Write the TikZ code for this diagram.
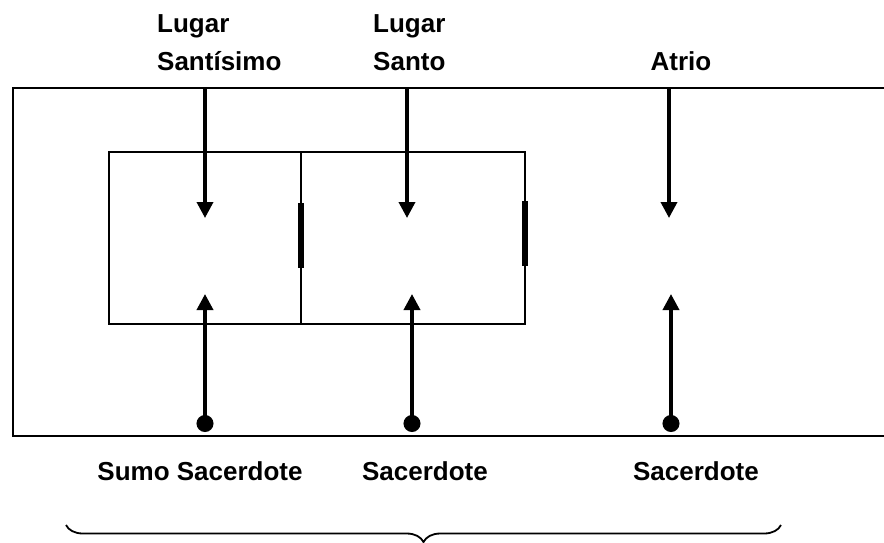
\documentclass[tikz,border=0pt]{standalone}
\usepackage{fontspec}
\setmainfont{Liberation Sans}
\usetikzlibrary{arrows.meta, positioning, decorations.pathreplacing}

\begin{document}
\begin{tikzpicture}[x=1pt, y=-1pt,
  lbl/.style={font=\fontsize{26}{38}\selectfont\bfseries, inner sep=0pt},
  room/.style={draw, line width=1.7pt, inner sep=0pt, outer sep=0pt, anchor=north west},
  into/.style={line width=3.6pt, -{Triangle[width=16pt, length=16pt]}},
  enter/.style={line width=3.6pt, {Circle[length=17pt]}-{Triangle[width=16pt, length=16pt]}},
  door/.style={line width=5.5pt}]
  \useasboundingbox (0,0) rectangle (884,542);

  % Atrio (open to the right)
  \coordinate (cNE) at (884,88);
  \coordinate (cNW) at (13,88);
  \coordinate (cSW) at (13,436);
  \coordinate (cSE) at (884,436);
  \draw[line width=2.8pt] (cNE) -- (cNW) -- (cSW) -- (cSE);

  % Rooms
  \node[room, minimum width=192pt, minimum height=172pt] (santisimo) at (109,152) {};
  \node[room, minimum width=224pt, minimum height=172pt] (santo) at (301,152) {};

  % Doors
  \draw[door] (301,203) -- (301,268);
  \draw[door] (525,201) -- (525,266);

  % Labels
  \node[lbl, align=left, anchor=north west] (lblSantisimo) at (157,14) {Lugar\\Santísimo};
  \node[lbl, align=left, anchor=north west] (lblSanto) at (373,14) {Lugar\\Santo};
  \node[lbl, anchor=base] (lblAtrio) at (681,70) {Atrio};

  \node[lbl, anchor=base] (lblSumo) at (200,480) {Sumo Sacerdote};
  \node[lbl, anchor=base] (lblSac1) at (425,480) {Sacerdote};
  \node[lbl, anchor=base] (lblSac2) at (696,480) {Sacerdote};

  % Arrows in
  \coordinate (inA) at (205,88);
  \coordinate (inB) at (407,88);
  \coordinate (inC) at (669,88);
  \coordinate (tipA) at (205,218);
  \coordinate (tipB) at (407,218);
  \coordinate (tipC) at (669,218);
  \draw[into] (inA) -- (tipA);
  \draw[into] (inB) -- (tipB);
  \draw[into] (inC) -- (tipC);

  % Priests
  \coordinate (pA) at (205,432);
  \coordinate (pB) at (412,432);
  \coordinate (pC) at (671,432);
  \coordinate (upA) at (205,294);
  \coordinate (upB) at (412,294);
  \coordinate (upC) at (671,294);
  \draw[enter] (pA) -- (upA);
  \draw[enter] (pB) -- (upB);
  \draw[enter] (pC) -- (upC);

  % Brace
  \coordinate (bL) at (66,525);
  \coordinate (bR) at (781,525);
  \draw[line width=1.8pt, decorate, decoration={brace, mirror, amplitude=17pt}] (bL) -- (bR);
\end{tikzpicture}
\end{document}
